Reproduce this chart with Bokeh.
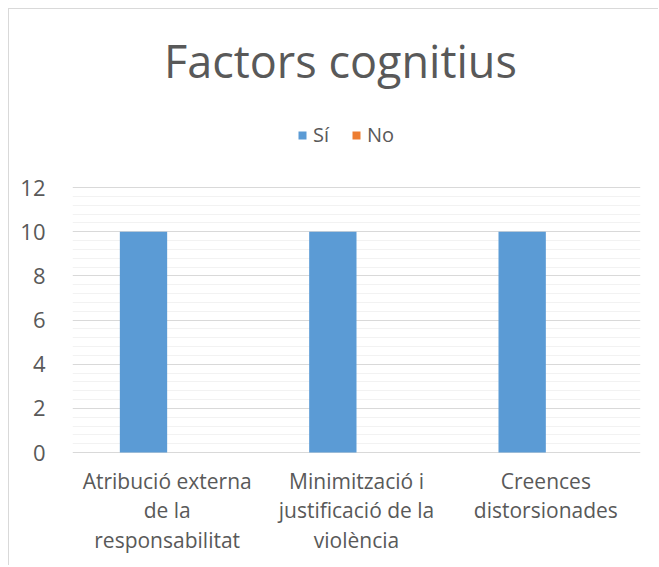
from bokeh.plotting import figure
from bokeh.models import Range1d, FixedTicker, Legend, LegendItem, Label
from bokeh.embed import file_html
from bokeh.resources import INLINE

# ---- data ----
title_text = "Factors cognitius"
categories = [["Atribució externa", "de la", "responsabilitat"],
              ["Minimització i", "justificació de la", "violència"],
              ["Creences", "distorsionades"]]
si_values = [10, 10, 10]
no_values = [0, 0, 0]
series_names = ["Sí", "No"]
y_ticks = [0, 2, 4, 6, 8, 10, 12]

FONT = "Open Sans"
TEXT = "#595959"
BLUE = "#5B9BD5"
ORANGE = "#ED7D31"

xs = [i + 0.5 for i in range(len(categories))]
bw = 0.25
minor = [t + k * 0.4 for t in y_ticks[:-1] for k in range(1, 5)]

# frame spans full height; y range extended so title / legend / labels sit inside
p = figure(width=650, height=557, output_backend="svg", toolbar_location=None,
           x_range=Range1d(0, len(categories)), y_range=Range1d(-5.16, 20.06),
           min_border_left=63, min_border_right=19, min_border_bottom=0,
           min_border_top=0)
p.styles = {"border-left": "1px solid #d9d9d9", "border-top": "1px solid #d9d9d9",
            "margin-left": "8px", "margin-top": "8px"}
p.outline_line_color = None
p.xaxis.visible = False

r_si = p.vbar(x=[x - bw / 2 for x in xs], top=si_values, width=bw,
              fill_color=BLUE, line_color=None)
r_no = p.vbar(x=[x + bw / 2 for x in xs], top=no_values, width=bw,
              fill_color=ORANGE, line_color=None)

# title
p.add_layout(Label(x=1.415, y=17.76, text=title_text, text_align="center",
                   text_baseline="middle", text_font=FONT, text_font_size="45px",
                   text_color=TEXT))

# legend
legend = Legend(items=[LegendItem(label=series_names[0], renderers=[r_si]),
                       LegendItem(label=series_names[1], renderers=[r_no])],
                orientation="horizontal", location=(225, 418),
                label_text_font=FONT, label_text_font_size="20px",
                label_text_color=TEXT, glyph_width=10, glyph_height=10,
                label_height=20, padding=0, margin=0,
                border_line_color=None, background_fill_alpha=0,
                spacing=18, label_standoff=6)
p.add_layout(legend, "center")

# y axis
p.yaxis.ticker = FixedTicker(ticks=y_ticks, minor_ticks=minor)
p.yaxis.axis_line_color = None
p.yaxis.major_tick_line_color = None
p.yaxis.minor_tick_line_color = None
p.yaxis.major_label_text_font = FONT
p.yaxis.major_label_text_font_size = "22px"
p.yaxis.major_label_text_color = TEXT
p.yaxis.major_label_standoff = 21

p.ygrid.grid_line_color = "#d9d9d9"
p.ygrid.minor_grid_line_color = "#f2f2f2"
p.xgrid.grid_line_color = None

# category labels
line_offsets = [-1.31, -2.62, -3.94]
for x, lines in zip(xs, categories):
    for j, t in enumerate(lines):
        p.add_layout(Label(x=x, y=line_offsets[j], text=t, text_align="center",
                           text_baseline="middle", text_font=FONT,
                           text_font_size="21px", text_color=TEXT))

p.background_fill_color = "white"
p.border_fill_color = "white"

open("out.html", "w").write(file_html(p, INLINE))
